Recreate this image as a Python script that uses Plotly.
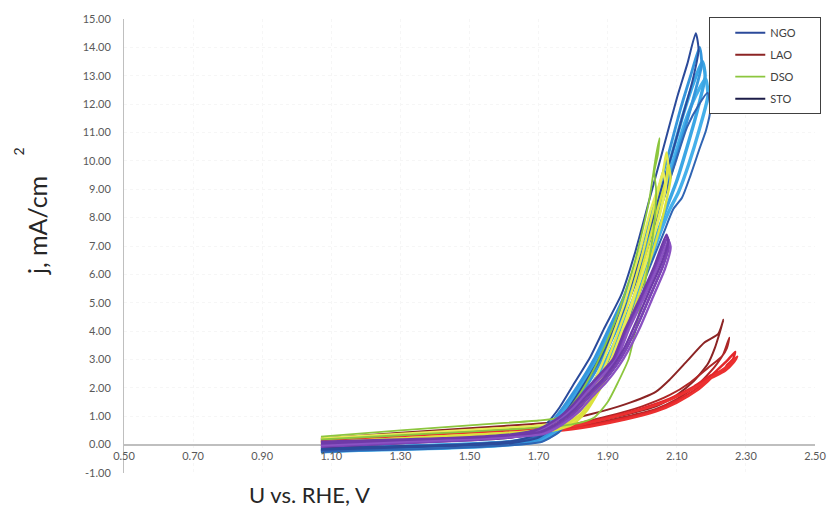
import plotly.graph_objects as go

# ---------------- data ----------------
X_TICKS = [0.50, 0.70, 0.90, 1.10, 1.30, 1.50, 1.70, 1.90, 2.10, 2.30, 2.50]
Y_TICKS = [-1, 0, 1, 2, 3, 4, 5, 6, 7, 8, 9, 10, 11, 12, 13, 14, 15]

# NGO cycles
NGO1_V = [1.07,1.30,1.50,1.62,1.68,1.72,1.76,1.80,1.85,1.89,1.94,1.98,2.02,2.06,2.10,2.13,2.155,
          2.163,2.145,2.115,2.085,2.055,2.03,1.995,1.955,1.915,1.87,1.82,1.78,1.74,1.70,1.62,1.45,1.25,1.07]
NGO1_J = [-0.12,-0.05,0.02,0.12,0.30,0.70,1.30,2.10,3.10,4.10,5.30,6.80,8.60,10.40,12.20,13.40,14.50,
          13.90,12.80,11.50,10.20,9.00,7.90,6.60,5.20,4.00,2.90,1.90,1.15,0.60,0.25,0.05,-0.05,-0.12,-0.18]
NGO2_V = [1.07,1.30,1.50,1.62,1.69,1.73,1.77,1.81,1.86,1.90,1.95,1.995,2.035,2.075,2.11,2.14,2.166,
          2.172,2.15,2.12,2.09,2.065,2.035,2.0,1.96,1.92,1.875,1.825,1.785,1.745,1.70,1.60,1.40,1.20,1.07]
NGO2_J = [-0.20,-0.08,0.00,0.10,0.30,0.70,1.30,2.00,3.00,4.00,5.30,6.90,8.50,10.20,11.80,13.00,14.00,
          13.40,12.30,11.00,9.80,8.80,7.70,6.50,5.10,3.90,2.80,1.80,1.10,0.55,0.20,0.00,-0.10,-0.17,-0.22]
NGO3_V = [1.07,1.30,1.50,1.63,1.70,1.74,1.78,1.82,1.87,1.91,1.96,2.005,2.045,2.085,2.12,2.15,2.174,
          2.182,2.16,2.13,2.10,2.075,2.045,2.01,1.97,1.93,1.885,1.835,1.79,1.75,1.70,1.58,1.38,1.18,1.07]
NGO3_J = [-0.15,-0.06,0.02,0.12,0.35,0.75,1.35,2.05,3.05,4.05,5.35,6.95,8.55,10.20,11.70,12.80,13.50,
          13.00,11.80,10.50,9.30,8.50,7.50,6.30,5.00,3.85,2.75,1.75,1.05,0.50,0.15,-0.02,-0.12,-0.18,-0.24]
NGO4_V = [1.07,1.30,1.50,1.63,1.70,1.745,1.785,1.825,1.875,1.915,1.965,2.01,2.05,2.09,2.125,2.155,2.183,
          2.19,2.165,2.135,2.105,2.08,2.05,2.015,1.975,1.935,1.89,1.84,1.795,1.755,1.705,1.58,1.38,1.18,1.07]
NGO4_J = [-0.18,-0.07,0.01,0.10,0.32,0.72,1.30,2.00,3.00,4.00,5.30,6.90,8.50,10.00,11.40,12.30,12.90,
          12.30,11.10,9.90,8.90,8.30,7.40,6.20,4.95,3.80,2.70,1.70,1.00,0.45,0.12,-0.04,-0.14,-0.20,-0.25]
NGO5_V = [1.07,1.30,1.50,1.63,1.71,1.75,1.79,1.83,1.88,1.92,1.97,2.015,2.055,2.095,2.13,2.165,2.189,
          2.197,2.185,2.165,2.14,2.115,2.09,2.06,2.02,1.98,1.94,1.895,1.845,1.80,1.76,1.71,1.58,1.38,1.18,1.07]
NGO5_J = [-0.20,-0.09,0.00,0.10,0.35,0.75,1.35,2.05,3.05,4.05,5.35,6.90,8.40,9.90,11.20,12.00,12.40,
          11.80,11.10,10.40,9.50,8.70,8.30,7.40,6.20,4.95,3.80,2.70,1.70,1.00,0.45,0.10,-0.05,-0.15,-0.21,-0.26]

# LAO cycles
LAO1_V = [1.07,1.30,1.50,1.65,1.75,1.85,1.95,2.04,2.10,2.15,2.19,2.21,2.235,
          2.22,2.18,2.13,2.08,2.04,1.95,1.85,1.75,1.60,1.40,1.20,1.07]
LAO1_J = [0.12,0.28,0.40,0.50,0.56,0.78,1.05,1.35,1.75,2.25,2.85,3.40,4.40,
          3.90,3.60,2.95,2.30,1.87,1.42,1.07,0.80,0.66,0.50,0.33,0.22]
LAO2_V = [1.07,1.30,1.50,1.65,1.75,1.85,1.95,2.04,2.10,2.16,2.21,2.235,2.252,
          2.245,2.23,2.19,2.14,2.08,2.00,1.90,1.80,1.70,1.50,1.30,1.07]
LAO2_J = [0.10,0.25,0.37,0.47,0.53,0.72,0.98,1.26,1.60,2.10,2.75,3.20,3.77,
          3.40,3.10,2.70,2.20,1.75,1.35,1.00,0.72,0.60,0.48,0.34,0.20]
LAO3_V = [1.07,1.30,1.50,1.65,1.75,1.85,1.95,2.04,2.10,2.16,2.21,2.245,2.269,
          2.262,2.245,2.238,2.20,2.15,2.08,2.00,1.90,1.80,1.70,1.50,1.30,1.07]
LAO3_J = [0.08,0.22,0.34,0.44,0.50,0.68,0.93,1.22,1.55,2.00,2.55,2.95,3.27,
          3.00,2.80,2.64,2.45,2.05,1.62,1.28,0.95,0.68,0.55,0.44,0.30,0.16]
LAO4_V = [1.07,1.30,1.50,1.65,1.75,1.85,1.95,2.04,2.10,2.16,2.21,2.25,2.275,
          2.265,2.24,2.20,2.15,2.08,2.00,1.90,1.80,1.70,1.50,1.30,1.07]
LAO4_J = [0.06,0.20,0.32,0.42,0.48,0.64,0.88,1.17,1.48,1.92,2.45,2.80,3.10,
          2.90,2.60,2.35,2.00,1.58,1.24,0.92,0.65,0.52,0.41,0.28,0.14]

# DSO cycles
DSO1_V = [1.07,1.30,1.50,1.65,1.75,1.80,1.86,1.90,1.93,1.96,1.98,2.00,2.02,2.035,2.04,2.035,2.045,2.05,
          2.04,2.03,2.02,2.00,1.975,1.94,1.91,1.87,1.83,1.79,1.76,1.70,1.50,1.30,1.07]
DSO1_J = [0.18,0.33,0.46,0.56,0.64,0.72,0.95,1.50,2.20,3.00,4.00,5.20,6.50,7.80,9.00,9.60,10.20,10.80,
          10.20,9.40,8.60,7.50,6.30,5.00,4.00,2.90,2.00,1.30,0.95,0.85,0.68,0.50,0.28]
DSO2_V = [1.07,1.30,1.50,1.65,1.72,1.77,1.81,1.85,1.89,1.925,1.96,2.0,2.035,2.06,2.07,
          2.075,2.065,2.045,2.015,1.98,1.95,1.92,1.875,1.835,1.795,1.74,1.55,1.30,1.07]
DSO2_J = [0.05,0.18,0.30,0.42,0.52,0.70,1.05,1.70,2.70,3.80,5.00,6.70,8.40,9.60,10.30,
          9.80,8.90,7.90,6.60,5.30,4.10,3.10,2.05,1.25,0.75,0.52,0.38,0.22,0.08]
DSO3_V = [1.07,1.30,1.50,1.65,1.73,1.78,1.82,1.86,1.90,1.935,1.97,2.01,2.045,2.07,2.075,
          2.082,2.07,2.05,2.02,1.985,1.955,1.925,1.88,1.84,1.80,1.745,1.55,1.30,1.07]
DSO3_J = [0.08,0.22,0.34,0.45,0.55,0.72,1.05,1.70,2.70,3.80,5.00,6.70,8.30,9.40,9.90,
          9.40,8.60,7.60,6.40,5.10,4.00,3.00,2.00,1.20,0.72,0.50,0.36,0.20,0.06]
DSO4_V = [1.07,1.30,1.50,1.65,1.72,1.765,1.80,1.84,1.88,1.915,1.95,1.99,2.025,2.05,2.06,
          2.068,2.055,2.035,2.005,1.97,1.94,1.91,1.865,1.825,1.785,1.735,1.55,1.30,1.07]
DSO4_J = [0.22,0.38,0.52,0.62,0.70,0.80,1.10,1.75,2.75,3.85,5.05,6.70,8.30,9.20,9.60,
          9.10,8.30,7.40,6.20,5.00,3.95,3.00,2.00,1.25,0.85,0.70,0.55,0.38,0.22]

# STO cycles
STO1_V = [1.07,1.30,1.50,1.62,1.70,1.756,1.80,1.843,1.88,1.92,1.955,2.0,2.04,2.073,
          2.078,2.06,2.025,1.99,1.955,1.925,1.89,1.85,1.81,1.765,1.71,1.55,1.30,1.07]
STO1_J = [-0.08,0.05,0.15,0.25,0.45,0.88,1.35,1.94,2.45,3.00,4.05,5.20,6.30,7.30,
          7.05,6.30,5.30,4.30,3.40,2.80,2.25,1.75,1.20,0.75,0.40,0.20,0.08,-0.04]
STO2_V = [1.07,1.30,1.50,1.62,1.70,1.76,1.805,1.848,1.886,1.926,1.961,2.006,2.046,2.076,
          2.082,2.066,2.031,1.996,1.961,1.931,1.896,1.856,1.816,1.77,1.715,1.55,1.30,1.07]
STO2_J = [-0.02,0.10,0.20,0.30,0.50,0.90,1.36,1.95,2.45,3.00,4.05,5.20,6.30,7.20,
          6.95,6.20,5.20,4.20,3.35,2.75,2.20,1.70,1.15,0.72,0.38,0.22,0.12,0.02]
STO3_V = [1.07,1.30,1.50,1.62,1.70,1.752,1.796,1.838,1.875,1.915,1.95,1.995,2.035,2.07,
          2.075,2.056,2.02,1.985,1.95,1.92,1.885,1.845,1.805,1.76,1.705,1.55,1.30,1.07]
STO3_J = [0.04,0.16,0.26,0.36,0.55,0.90,1.36,1.95,2.45,3.00,4.05,5.20,6.30,7.40,
          7.15,6.40,5.40,4.40,3.45,2.85,2.30,1.80,1.25,0.80,0.45,0.28,0.18,0.10]

# ---------------- styling ----------------
FONT = "Lato"
PAD = "\u00a0" * 7
fig = go.Figure()

def add(v, j, color, width, name, group, show, rank):
    fig.add_trace(go.Scatter(
        x=v, y=j, mode="lines", name=name + PAD, legendgroup=group, showlegend=show,
        legendrank=rank, line=dict(color=color, width=width, shape="spline", smoothing=0.6),
        hoverinfo="skip"))

# LAO (drawn first, underneath)
add(LAO1_V, LAO1_J, "#8c2424", 2.0, "LAO", "LAO", True, 2)
add(LAO2_V, LAO2_J, "#ad2727", 2.0, "LAO", "LAO", False, 2)
add(LAO3_V, LAO3_J, "#e3262a", 2.4, "LAO", "LAO", False, 2)
add(LAO4_V, LAO4_J, "#ec3030", 2.4, "LAO", "LAO", False, 2)

# NGO
add(NGO4_V, NGO4_J, "#45b0ea", 3.4, "NGO", "NGO", False, 1)
add(NGO3_V, NGO3_J, "#3ba6e4", 3.4, "NGO", "NGO", False, 1)
add(NGO2_V, NGO2_J, "#3596dc", 2.8, "NGO", "NGO", False, 1)
add(NGO5_V, NGO5_J, "#2f64b3", 2.0, "NGO", "NGO", False, 1)
add(NGO1_V, NGO1_J, "#2b4a9a", 2.0, "NGO", "NGO", True, 1)

# DSO
add(DSO2_V, DSO2_J, "#e4e84a", 2.4, "DSO", "DSO", False, 3)
add(DSO3_V, DSO3_J, "#dbe23c", 2.4, "DSO", "DSO", False, 3)
add(DSO4_V, DSO4_J, "#e9ec58", 2.4, "DSO", "DSO", False, 3)
add(DSO1_V, DSO1_J, "#8cc63e", 1.8, "DSO", "DSO", True, 3)

# STO
add(STO1_V, STO1_J, "#1c1c48", 2.0, "STO", "STO", True, 4)
add(STO1_V, STO1_J, "#7b42b6", 2.4, "STO", "STO", False, 4)
add(STO2_V, STO2_J, "#8a52c2", 2.4, "STO", "STO", False, 4)
add(STO3_V, STO3_J, "#6e3aa8", 2.4, "STO", "STO", False, 4)

fig.update_layout(
    width=833, height=508,
    margin=dict(l=124, r=15, t=19, b=35),
    paper_bgcolor="white", plot_bgcolor="white",
    font=dict(family=FONT, size=11, color="#595959"),
    showlegend=True,
    legend=dict(x=0.847, y=1.004, xanchor="left", yanchor="top",
                bordercolor="#404040", borderwidth=1, bgcolor="white",
                font=dict(family=FONT, size=11, color="#404040"),
                traceorder="grouped", tracegroupgap=3, indentation=20),
    xaxis=dict(range=[0.5, 2.5], tickvals=X_TICKS, ticktext=[f"{t:.2f}" for t in X_TICKS],
               anchor="free", position=1/16, showline=False, zeroline=False, automargin=False,
               showgrid=True, gridcolor="#f6f6f6", griddash="dot", ticks="",
               ticklabelstandoff=3, tickfont=dict(family=FONT, size=11, color="#595959")),
    yaxis=dict(range=[-1, 15], tickvals=Y_TICKS, ticktext=[f"{t:.2f}" for t in Y_TICKS],
               showline=True, linecolor="#bfbfbf", linewidth=1, automargin=False,
               zeroline=True, zerolinecolor="#bfbfbf", zerolinewidth=1.5,
               showgrid=True, gridcolor="#f6f6f6", griddash="dot", ticks="",
               ticklabelstandoff=10, tickfont=dict(family=FONT, size=11, color="#595959")),
    annotations=[
        dict(text="U vs. RHE, V", xref="paper", yref="paper", x=0.268, y=-0.047,
             xanchor="center", yanchor="middle",
             showarrow=False, font=dict(family=FONT, size=22, color="#262626")),
        dict(text="j, mA/cm", xref="paper", yref="paper", x=-0.126, y=0.546, textangle=-90,
             xanchor="center", yanchor="middle",
             showarrow=False, font=dict(family=FONT, size=25, color="#262626")),
        dict(text="2", xref="paper", yref="paper", x=-0.152, y=0.708, textangle=-90,
             xanchor="center", yanchor="middle",
             showarrow=False, font=dict(family=FONT, size=14, color="#262626")),
    ],
)

fig.write_html("out.html", config={"displayModeBar": False},
               post_script="document.body.style.margin='0px';document.body.style.padding='0px';")
